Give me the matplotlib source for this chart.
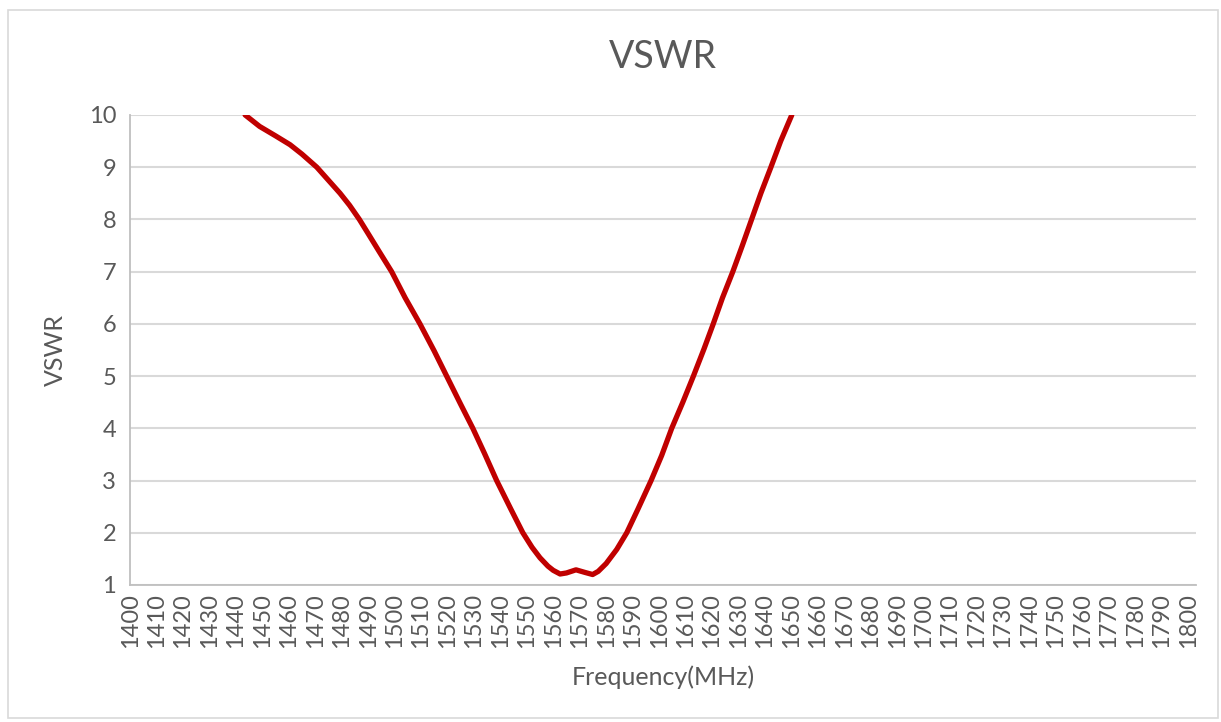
import matplotlib.pyplot as plt
from matplotlib.patches import Rectangle

plt.rcParams['font.family'] = ['Lato', 'DejaVu Sans']

# readings (MHz, VSWR)
freq = [1443.5, 1449, 1455, 1460.5, 1465, 1470.6, 1475, 1479.4, 1483, 1486.7,
        1490, 1494, 1498.9, 1504, 1509.6, 1515, 1519.7, 1525, 1529.6, 1534,
        1538.6, 1544, 1548.5, 1552, 1555, 1558, 1560, 1562.6, 1565, 1568.6,
        1572, 1574.9, 1577, 1580, 1584, 1587.8, 1592, 1597, 1601, 1604.8,
        1609, 1613, 1617, 1620.5, 1624, 1627.9, 1631.5, 1635, 1638.5, 1642.3,
        1646, 1650.2]
vswr = [10.0, 9.78, 9.6, 9.43, 9.25, 9.0, 8.75, 8.5, 8.27, 8.0,
        7.73, 7.4, 7.0, 6.5, 6.0, 5.48, 5.0, 4.46, 4.0, 3.52,
        3.0, 2.45, 2.0, 1.72, 1.52, 1.36, 1.28, 1.21, 1.23, 1.29,
        1.24, 1.2, 1.26, 1.41, 1.68, 2.0, 2.45, 3.0, 3.48, 4.0,
        4.5, 5.0, 5.52, 6.0, 6.5, 7.0, 7.5, 8.0, 8.5, 9.0,
        9.5, 10.0]
xticks = list(range(1400, 1801, 10))
yticks = list(range(1, 11))

grey = '#595959'
fig = plt.figure(figsize=(12.21, 7.22), dpi=100)
fig.patches.append(Rectangle((8 / 1221, 4 / 722), 1210 / 1221, 708 / 722,
                             transform=fig.transFigure, fill=False,
                             edgecolor='#d9d9d9', lw=1.2))
ax = fig.add_axes([0.1065, 0.1898, 0.873, 0.651])

ax.plot(freq, vswr, color='#C00000', lw=3.8, solid_capstyle='round',
        solid_joinstyle='round', zorder=3)

ax.set_xlim(1400, 1803)
ax.set_ylim(1, 10)
ax.set_xticks(xticks)
ax.set_xticklabels([str(t) for t in xticks], rotation=90, fontsize=17,
                   color=grey)
ax.set_yticks(yticks)
ax.set_yticklabels([str(t) for t in yticks], fontsize=17, color=grey)
ax.tick_params(length=0, pad=10)
ax.tick_params(axis='x', pad=6)
ax.grid(axis='y', color='#d9d9d9', lw=1.5)
for s in ['top', 'right']:
    ax.spines[s].set_visible(False)
for s in ['left', 'bottom']:
    ax.spines[s].set_color('#bfbfbf')
    ax.spines[s].set_linewidth(1.3)

ax.set_title('VSWR', fontsize=27, color=grey, pad=34)
ax.set_ylabel('VSWR', fontsize=18, color=grey, labelpad=16)
ax.set_xlabel('Frequency(MHz)', fontsize=18, color=grey, labelpad=12)

fig.savefig('out.png', dpi=100)
